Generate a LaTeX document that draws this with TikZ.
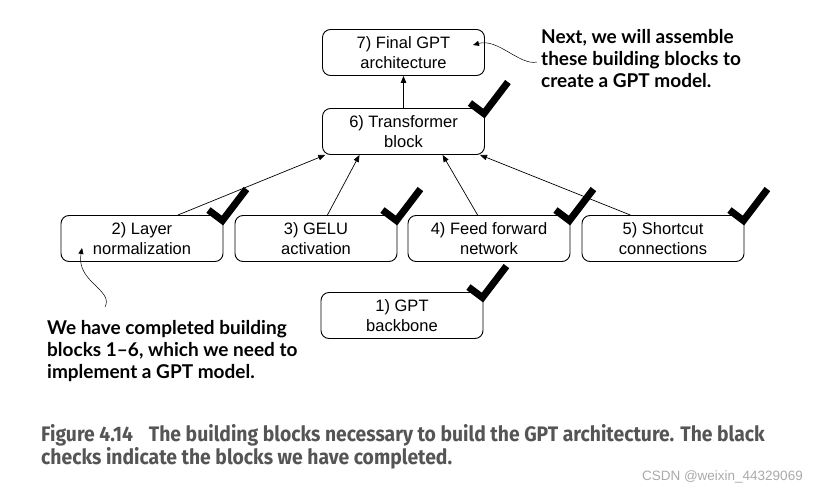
\documentclass[tikz,border=0pt]{standalone}
\usepackage{fontspec}
\setmainfont{Liberation Sans}
\newfontfamily\annfont{Lato}
\newfontfamily\capfont[FakeStretch=0.92]{Fira Sans}
\usetikzlibrary{arrows.meta,calc}
\definecolor{capgray}{RGB}{85,85,85}
\definecolor{wmgray}{RGB}{170,170,170}
\begin{document}
\begin{tikzpicture}[x=1pt,y=-1pt,
  blk/.style={draw, line width=0.9pt, rounded corners=8pt, minimum width=162pt, minimum height=46pt,
    align=center, inner sep=0pt, font=\fontsize{16.5}{20}\selectfont},
  arr/.style={line width=0.7pt, -{Triangle[length=7pt,width=5.5pt]}},
  ann/.style={line width=0.5pt, -{Triangle[length=6pt,width=5pt]}},
  chk/.style={line width=7pt, line join=miter, line cap=butt},
  anntext/.style={align=left, anchor=north west, inner sep=0pt,
    font=\annfont\bfseries\fontsize{19}{22.3}\selectfont}]
\useasboundingbox[fill=white] (0,0) rectangle (826,492);

\node[blk] (b7) at (403.5,52.5) {7) Final GPT\\architecture};
\node[blk] (b6) at (403.5,131.5) {6) Transformer\\block};
\node[blk] (b2) at (142,238.5) {2) Layer\\normalization};
\node[blk] (b3) at (316,238.5) {3) GELU\\activation};
\node[blk] (b4) at (489,238.5) {4) Feed forward\\network};
\node[blk] (b5) at (663,238.5) {5) Shortcut\\connections};
\node[blk] (b1) at (402,315.5) {1) GPT\\backbone};

% connectors
\draw[arr] (b6.north) -- (b7.south);
\draw[arr] ($(b2.north west)!0.72!(b2.north east)$) -- ($(b6.south west)!0.02!(b6.south east)$);
\draw[arr] ($(b3.north west)!0.57!(b3.north east)$) -- ($(b6.south west)!0.23!(b6.south east)$);
\draw[arr] ($(b4.north west)!0.43!(b4.north east)$) -- ($(b6.south west)!0.74!(b6.south east)$);
\draw[arr] ($(b5.north west)!0.30!(b5.north east)$) -- ($(b6.south west)!0.97!(b6.south east)$);

% checks
\foreach \b in {b6,b2,b3,b4,b5,b1}{
  \draw[chk] ($(\b.north east)+(-15,-5)$) -- ($(\b.north east)+(-1,5.5)$) -- ($(\b.north east)+(23,-26)$);
}

% annotations
\node[anntext] (t1) at (541,29) {Next, we will assemble\\these building blocks to\\create a GPT model.};
\coordinate (c1s) at (537,62);
\coordinate (c1e) at (473,45);
\draw[ann] (c1s) .. controls (520,66) and (498,38) .. (c1e);

\node[anntext] (t2) at (47,320) {We have completed building\\blocks 1–6, which we need to\\implement a GPT model.};
\coordinate (c2s) at (105,307);
\coordinate (c2e) at (82,248);
\draw[ann] (c2s) .. controls (114,290) and (76,282) .. (c2e);

% caption
\node[anchor=north west, inner sep=0pt, align=left, text=capgray,
  font=\capfont\bfseries\fontsize{21}{23}\selectfont] (cap) at (41,424)
  {Figure 4.14\hspace{16pt}The building blocks necessary to build the GPT architecture. The black\\checks indicate the blocks we have completed.};

\node[anchor=east, inner sep=0pt, text=wmgray, font=\fontsize{13.5}{15}\selectfont] (wm) at (803,477) {CSDN @weixin\_44329069};
\end{tikzpicture}
\end{document}
